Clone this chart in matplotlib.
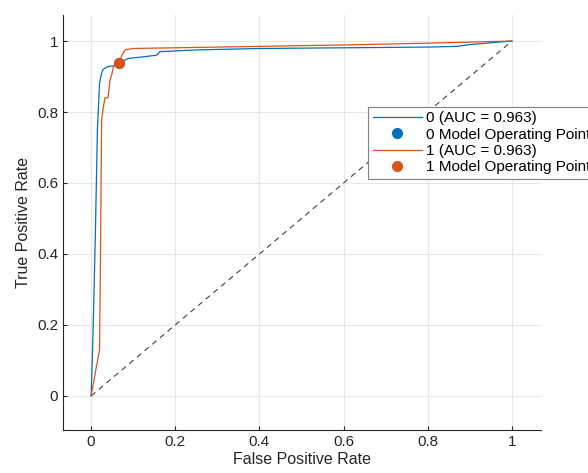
import matplotlib.pyplot as plt

plt.rcParams['font.family'] = ['Liberation Sans', 'DejaVu Sans']

# ROC curve for class 0
fpr0 = [0.0, 0.004, 0.010, 0.015, 0.020, 0.023, 0.028, 0.040, 0.053, 0.062, 0.070,
        0.078, 0.089, 0.120, 0.155, 0.160, 0.163, 0.250, 0.400, 0.600, 0.700,
        0.800, 0.870, 0.900, 0.950, 1.0]
tpr0 = [0.0, 0.15, 0.45, 0.75, 0.88, 0.90, 0.92, 0.928, 0.930, 0.932, 0.935,
        0.945, 0.951, 0.955, 0.960, 0.965, 0.970, 0.975, 0.979, 0.981, 0.982,
        0.983, 0.985, 0.990, 0.995, 1.0]

# ROC curve for class 1
fpr1 = [0.0, 0.020, 0.022, 0.023, 0.025, 0.030, 0.033, 0.040, 0.045, 0.050,
        0.053, 0.062, 0.066, 0.073, 0.081, 0.100, 0.200, 0.400, 0.600, 0.800, 1.0]
tpr1 = [0.0, 0.13, 0.35, 0.50, 0.78, 0.82, 0.84, 0.84, 0.89, 0.91,
        0.928, 0.935, 0.937, 0.960, 0.975, 0.979, 0.981, 0.985, 0.989, 0.994, 1.0]

op_x = [0.066, 0.066]
op_y = [0.937, 0.937]
auc = [0.963, 0.963]

blue = '#0072BD'
orange = '#D95319'

fig = plt.figure(figsize=(5.88, 4.73), dpi=100)
ax = fig.add_axes([0.107, 0.091, 0.813, 0.877])

ax.plot([0, 1], [0, 1], linestyle=(0, (5, 4)), color='#404040', linewidth=0.8)
h0, = ax.plot(fpr0, tpr0, color=blue, linewidth=0.9, label='0 (AUC = %.3f)' % auc[0])
p0, = ax.plot(op_x[0], op_y[0], 'o', color=blue, markersize=7,
              label='0 Model Operating Point')
h1, = ax.plot(fpr1, tpr1, color=orange, linewidth=0.9, label='1 (AUC = %.3f)' % auc[1])
p1, = ax.plot(op_x[1], op_y[1], 'o', color=orange, markersize=7,
              label='1 Model Operating Point')

ax.set_xlim(-0.067, 1.069)
ax.set_ylim(-0.096, 1.073)
ax.set_xticks([0, 0.2, 0.4, 0.6, 0.8, 1])
ax.set_xticklabels(['0', '0.2', '0.4', '0.6', '0.8', '1'])
ax.set_yticks([0, 0.2, 0.4, 0.6, 0.8, 1])
ax.set_yticklabels(['0', '0.2', '0.4', '0.6', '0.8', '1'])
ax.grid(True, color='#e6e6e6', linewidth=0.8)
ax.set_axisbelow(True)
for s in ['top', 'right']:
    ax.spines[s].set_visible(False)
for s in ['left', 'bottom']:
    ax.spines[s].set_color('#262626')
    ax.spines[s].set_linewidth(0.8)
ax.tick_params(direction='in', length=3, labelsize=11, colors='#262626')

ax.set_xlabel('False Positive Rate', fontsize=11.5, color='#262626', labelpad=2)
ax.set_ylabel('True Positive Rate', fontsize=11.5, color='#262626', labelpad=4)

# legend runs past the right edge of the figure, as in the original
leg = ax.legend(handles=[h0, p0, h1, p1], loc='upper left',
                bbox_to_anchor=(0.626, 0.774), bbox_transform=fig.transFigure,
                fontsize=11, fancybox=False, framealpha=1, edgecolor='#808080',
                labelspacing=0.15, handlelength=3.2, handletextpad=0.3,
                borderpad=0.3, borderaxespad=0)
leg.get_frame().set_linewidth(0.8)

fig.savefig('out.png', dpi=100)
